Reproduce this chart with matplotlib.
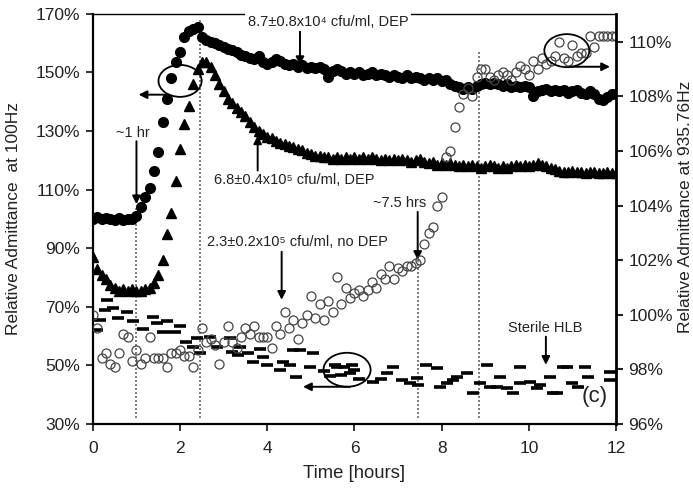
import numpy as np
import matplotlib
matplotlib.use("Agg")
import matplotlib.pyplot as plt
from matplotlib.patches import Ellipse

plt.rcParams['font.family'] = ['Liberation Sans', 'DejaVu Sans']

# sampling times in hours (one reading every 6 min)
hours = np.round(np.arange(0, 12.01, 0.1), 1)

# 8.7+-0.8x10^4 cfu/ml, DEP  (left axis, %)
dep_low = [100.0, 100.5, 99.8, 100.3, 100.0, 99.5, 100.2, 99.6, 100.1, 99.8,
           101.0, 104.0, 107.5, 110.5, 116.5, 123.0, 133.0, 141.0, 148.0, 153.5,
           157.0, 162.0, 164.3, 164.8, 165.5, 162.0, 161.0, 160.5, 160.0, 159.5,
           158.5, 158.0, 157.5, 157.0, 156.0, 155.5, 155.0, 154.5, 155.5, 153.5,
           153.0, 153.5, 154.5, 154.0, 153.0, 152.5, 153.0, 152.0, 152.5, 151.5,
           152.0, 151.5, 152.0, 151.0, 148.5, 150.5, 151.0, 150.5, 149.5, 150.0,
           149.5, 150.0, 149.0, 149.5, 150.0, 149.0, 149.5, 149.0, 148.5, 149.0,
           148.5, 148.0, 149.0, 148.0, 148.5, 148.0, 147.5, 148.0, 147.5, 148.0,
           147.0, 147.5, 146.0, 145.5, 145.0, 144.5, 145.0, 144.5, 145.5, 146.0,
           146.5, 146.0, 146.5, 146.0, 145.5, 146.0, 145.0, 145.5, 145.0, 145.5,
           145.0, 142.0, 143.5, 144.0, 144.5, 143.5, 144.0, 143.5, 144.0, 143.0,
           143.5, 144.0, 143.0, 142.5, 143.5, 142.5, 141.0, 140.5, 141.5, 142.5,
           142.5]

# 6.8+-0.4x10^5 cfu/ml, DEP  (left axis, %)
dep_high = [87.0, 83.0, 81.0, 79.5, 77.5, 76.5, 75.5, 76.0, 75.5, 76.0,
            75.5, 75.5, 76.0, 76.5, 78.0, 81.0, 86.0, 95.0, 102.0, 113.0,
            124.0, 132.5, 138.5, 146.0, 151.0, 153.6, 153.6, 152.0, 149.0, 146.0,
            143.5, 141.0, 139.5, 138.0, 136.5, 135.0, 133.0, 131.5, 130.0, 129.0,
            128.0, 127.5, 126.5, 126.0, 125.5, 125.0, 124.5, 124.0, 123.5, 122.5,
            122.0, 121.5, 121.5, 121.0, 121.0, 120.5, 121.0, 120.5, 121.0, 120.5,
            121.0, 120.5, 121.0, 120.5, 121.0, 120.5, 120.0, 120.5, 120.0, 120.5,
            120.0, 120.5, 120.0, 119.5, 120.0, 120.5, 119.5, 119.0, 119.5, 118.5,
            119.0, 118.5, 119.0, 118.5, 118.0, 118.5, 118.0, 118.5, 118.0, 117.5,
            118.0, 118.5, 118.0, 117.5, 118.0, 117.5, 118.0, 118.5, 118.0, 118.5,
            118.0, 118.5, 119.0, 118.5, 118.0, 117.5, 117.0, 116.5, 116.0, 116.0,
            116.5, 116.0, 116.0, 115.5, 116.0, 116.0, 115.5, 115.5, 116.0, 115.5,
            115.5]

# 2.3+-0.2x10^5 cfu/ml, no DEP  (right axis, %)
no_dep = [100.0, 99.5, 98.4, 98.6, 98.2, 98.1, 98.6, 99.3, 99.2, 98.3,
          98.7, 98.2, 98.4, 99.2, 98.4, 98.4, 98.4, 98.1, 98.6, 98.6,
          98.7, 98.5, 98.5, 98.1, 98.7, 99.5, 99.0, 99.1, 98.9, 98.2,
          99.0, 99.6, 99.0, 98.8, 99.2, 99.5, 99.3, 99.6, 99.2, 99.2,
          99.2, 98.8, 99.6, 99.3, 100.1, 99.5, 99.8, 99.1, 99.7, 100.0,
          100.7, 99.9, 100.4, 99.8, 100.5, 100.1, 101.4, 100.4, 101.0, 100.6,
          100.8, 100.9, 100.7, 100.9, 101.2, 101.0, 101.5, 101.3, 101.8, 101.3,
          101.7, 101.6, 101.8, 101.8, 101.9, 102.0, 102.6, 103.0, 103.2, 104.0,
          104.3, 105.8, 106.0, 106.9, 107.6, 108.1, 108.3, 108.0, 108.7, 109.0,
          109.0, 108.7, 108.6, 108.8, 108.9, 108.8, 108.6, 108.9, 109.1, 109.0,
          108.8, 109.3, 109.0, 109.4, 109.2, 109.3, 109.5, 110.0, 109.4, 109.3,
          109.9, 109.5, 109.6, 109.6, 110.2, 109.8, 110.2, 110.2, 110.2, 110.2,
          110.2]

# Sterile HLB (left axis, %)
hlb_t = [0.10, 0.16, 0.27, 0.32, 0.46, 0.58, 0.78, 0.92, 1.15, 1.38,
         1.47, 1.60, 1.70, 1.88, 2.00, 2.14, 2.30, 2.38, 2.45, 2.68,
         2.84, 3.14, 3.20, 3.34, 3.37, 3.56, 3.67, 3.83, 3.90, 3.99,
         4.29, 4.36, 4.52, 4.59, 4.67, 4.75, 4.98, 5.05, 5.30, 5.45,
         5.55, 5.60, 5.70, 5.75, 5.90, 5.95, 6.00, 6.10, 6.43, 6.60,
         6.74, 6.88, 7.08, 7.27, 7.43, 7.45, 7.65, 7.89, 7.96, 8.12,
         8.26, 8.35, 8.57, 8.72, 8.88, 9.04, 9.10, 9.26, 9.33, 9.50,
         9.63, 9.79, 9.80, 10.02, 10.18, 10.25, 10.48, 10.55, 10.64, 10.78,
         10.87, 11.00, 11.12, 11.28, 11.35, 11.86, 11.86]
hlb_v = [62.0, 65.6, 69.0, 72.4, 69.7, 66.2, 68.3, 65.0, 62.4, 66.6,
         64.5, 61.5, 65.0, 61.5, 63.5, 58.0, 56.4, 59.4, 54.3, 59.8,
         56.4, 59.4, 54.6, 53.6, 56.4, 54.3, 51.0, 55.7, 53.0, 50.2,
         48.5, 51.0, 50.2, 55.3, 46.1, 55.3, 49.5, 54.3, 48.0, 46.5,
         50.2, 49.5, 46.6, 49.5, 47.5, 50.0, 48.3, 45.5, 44.4, 45.5,
         47.5, 49.5, 45.0, 44.1, 45.8, 43.4, 50.2, 49.2, 42.7, 44.1,
         45.0, 46.1, 47.5, 40.6, 44.1, 50.2, 42.7, 42.7, 46.1, 42.4,
         40.6, 49.5, 44.1, 44.4, 42.4, 43.4, 46.1, 40.6, 40.6, 49.5,
         49.5, 44.1, 42.7, 49.5, 46.1, 47.8, 45.0]

fig = plt.figure(figsize=(6.93, 4.93), dpi=100)
ax = fig.add_axes([0.134, 0.140, 0.755, 0.832])
ax2 = ax.twinx()

# dotted time markers (x, top in left-axis %)
for xv, ytop in [(1.0, 104), (2.45, 168), (7.45, 86), (8.85, 157)]:
    ax.plot([xv, xv], [32, ytop], color='#666666', lw=1.2, ls=(0, (1.2, 1.2)), zorder=1)

ax.plot(hlb_t, hlb_v, ls='none', marker='_', ms=8, mew=2.6, color='k', zorder=3)
ax.plot(hours, dep_high, ls='none', marker='^', ms=6.5, color='k', zorder=4)
ax.plot(hours, dep_low, ls='none', marker='o', ms=7, color='k', zorder=4)
ax2.plot(hours, no_dep, ls='none', marker='o', ms=6.5, mfc='none', mec='#444444', mew=0.9)

ax.set_xlim(0, 12)
ax.set_ylim(30, 170)
ax2.set_ylim(96, 111.03)
ax.set_xticks(range(0, 13, 2))
ax.set_yticks(range(30, 171, 20))
ax.set_yticklabels(['%d%%' % v for v in range(30, 171, 20)])
ax2.set_yticks(range(96, 111, 2))
ax2.set_yticklabels(['%d%%' % v for v in range(96, 111, 2)])

ax.spines['right'].set_visible(False)
ax.spines['top'].set_linewidth(1.0)
ax.spines['left'].set_linewidth(1.6)
ax.spines['bottom'].set_linewidth(1.6)
for s in ['top', 'left', 'bottom']:
    ax2.spines[s].set_visible(False)
ax2.spines['right'].set_linewidth(2.0)

ax.tick_params(direction='out', length=5, width=1.3, labelsize=12.5, pad=4, colors='#222222')
ax.tick_params(axis='x', pad=7)
ax2.tick_params(direction='out', length=5, width=1.5, labelsize=12.5, pad=4, colors='#222222')

ax.set_xlabel('Time [hours]', fontsize=13.3, labelpad=7, color='#222222')
ax.set_ylabel('Relative Admittance  at 100Hz', fontsize=12.5, color='#222222')
ax.yaxis.set_label_coords(-0.137, 0.5)
ax2.set_ylabel('Relative Admittance at 935.76Hz', fontsize=12.5, color='#222222')
ax2.yaxis.set_label_coords(1.118, 0.53)

arr = dict(arrowstyle='-|>', lw=1.4, color='k', mutation_scale=12, shrinkA=0, shrinkB=0)
txt = dict(fontsize=10.5, color='#222222', ha='center', va='center')

ax.text(5.40, 167.3, '8.7±0.8x10⁴ cfu/ml, DEP', zorder=6,
        bbox=dict(fc='white', ec='none', pad=2), **txt)
ax.annotate('', xy=(4.75, 152.5), xytext=(4.75, 164.5), arrowprops=arr)

ax.text(0.92, 129.4, '~1 hr', **txt)
ax.annotate('', xy=(1.0, 105.0), xytext=(1.0, 126.5), arrowprops=arr)

ax.text(4.61, 113.3, '6.8±0.4x10⁵ cfu/ml, DEP', **txt)
ax.annotate('', xy=(3.78, 128.5), xytext=(3.78, 116.5), arrowprops=arr)

ax.text(4.70, 92.2, '2.3±0.2x10⁵ cfu/ml, no DEP', **txt)
ax.annotate('', xy=(4.33, 72.4), xytext=(4.33, 88.8), arrowprops=arr)

ax.text(7.04, 105.5, '~7.5 hrs', **txt)
ax.annotate('', xy=(7.45, 86.0), xytext=(7.45, 102.4), arrowprops=arr)

ax.text(10.37, 62.8, 'Sterile HLB', **txt)
ax.annotate('', xy=(10.39, 50.2), xytext=(10.39, 59.8), arrowprops=arr)

ax.text(11.5, 39.3, '(c)', fontsize=16, color='#222222', ha='center', va='center')

# series markers: ellipses + arrows to their axis
ax.add_patch(Ellipse((2.0, 147.1), 0.99, 10.9, fill=False, ec='k', lw=1.3, zorder=5))
ax.annotate('', xy=(1.05, 142.4), xytext=(1.72, 142.4), arrowprops=arr)

ax.add_patch(Ellipse((5.83, 48.5), 1.08, 11.6, fill=False, ec='k', lw=1.3, zorder=5))
ax.annotate('', xy=(4.82, 42.7), xytext=(5.9, 42.7), arrowprops=arr)

ax2.add_patch(Ellipse((10.87, 109.68), 1.03, 1.21, fill=False, ec='k', lw=1.3, zorder=5))
ax2.annotate('', xy=(11.86, 109.09), xytext=(10.94, 109.09), arrowprops=arr)

plt.savefig('out.png', dpi=100)
